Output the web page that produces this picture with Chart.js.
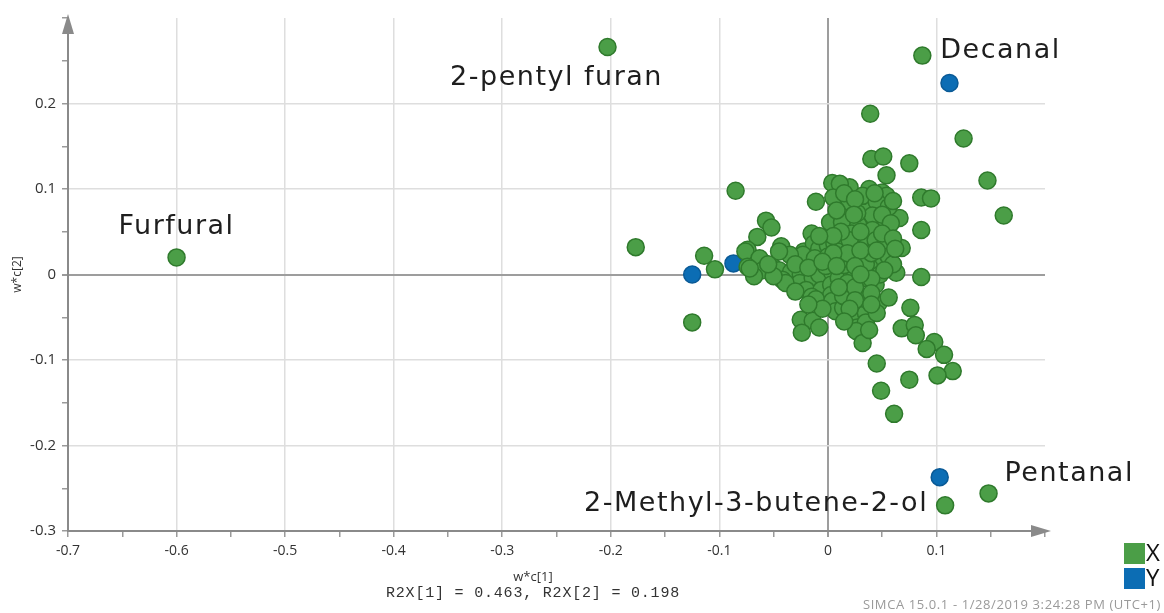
<!DOCTYPE html>
<html>
<head>
<meta charset="utf-8">
<script src="https://cdn.jsdelivr.net/npm/chart.js@4.4.1/dist/chart.umd.min.js"></script>
<style>
  body { margin: 0; background: #fff; }
  canvas { display: block; }
</style>
</head>
<body>
<canvas id="loadings" width="1164" height="613"></canvas>
<script>
// X variables (w*c[1], w*c[2])
const xPoints = [
    [-0.600, 0.020], [-0.203, 0.266], [0.087, 0.256], [0.148, -0.256], [0.108, -0.270],
    [-0.177, 0.032], [-0.125, -0.056], [-0.114, 0.022], [-0.104, 0.006], [-0.085, 0.098],
    [0.039, 0.188], [0.125, 0.159], [0.040, 0.135], [0.051, 0.138], [0.075, 0.130],
    [0.054, 0.116], [0.147, 0.110], [0.162, 0.069], [0.004, 0.107], [-0.011, 0.085],
    [0.086, 0.090], [0.095, 0.089], [0.086, 0.052], [-0.057, 0.063], [-0.052, 0.055],
    [-0.065, 0.044], [-0.074, 0.029], [-0.043, 0.033], [0.063, 0.002], [0.086, -0.003],
    [0.068, 0.031], [0.066, 0.066], [0.002, 0.061], [-0.015, 0.048], [0.047, 0.061],
    [0.016, 0.079], [0.033, 0.079], [0.020, 0.102], [0.038, 0.100], [0.050, 0.096],
    [0.032, 0.092], [0.054, 0.092], [0.011, 0.106], [0.045, 0.085], [0.056, 0.079],
    [0.022, 0.063], [0.041, 0.069], [0.013, 0.061], [0.028, 0.058], [0.041, 0.052],
    [0.022, 0.048], [0.032, 0.038], [0.044, 0.040], [0.053, 0.036], [0.013, 0.036],
    [0.025, 0.030], [-0.022, 0.027], [-0.013, 0.036], [-0.008, 0.030], [0.000, 0.034],
    [0.006, 0.036], [0.009, 0.027], [-0.076, 0.027], [-0.063, 0.019], [-0.074, 0.009],
    [-0.060, 0.005], [-0.068, -0.002], [-0.072, 0.007], [-0.051, 0.009], [-0.045, 0.005],
    [-0.034, 0.003], [-0.025, 0.000], [-0.042, -0.006], [-0.026, -0.010], [-0.039, -0.010],
    [-0.014, -0.004], [-0.008, 0.000], [0.004, 0.002], [-0.020, -0.018], [-0.006, -0.018],
    [0.003, -0.012], [0.010, -0.004], [-0.015, -0.026], [-0.008, -0.031], [0.003, -0.024],
    [-0.011, -0.029], [0.004, -0.031], [-0.023, 0.023], [-0.012, 0.019], [0.000, 0.021],
    [-0.035, 0.023], [-0.045, 0.027], [0.007, -0.043], [0.014, -0.039], [0.047, 0.013],
    [0.056, 0.021], [0.038, 0.009], [0.029, 0.019], [0.044, -0.012], [0.033, -0.004],
    [0.022, 0.003], [0.015, 0.011], [0.015, -0.024], [0.032, -0.029], [0.047, -0.033],
    [0.056, -0.027], [0.076, -0.039], [0.026, -0.047], [0.035, -0.045], [0.068, -0.063],
    [0.080, -0.059], [0.081, -0.071], [0.027, -0.062], [0.035, -0.056], [0.026, -0.066],
    [0.032, -0.080], [0.098, -0.079], [0.091, -0.087], [0.107, -0.094], [0.115, -0.113],
    [0.101, -0.118], [0.045, -0.104], [0.075, -0.123], [0.049, -0.136], [0.061, -0.163],
    [-0.025, -0.053], [-0.014, -0.054], [-0.008, -0.062], [-0.024, -0.068], [0.014, -0.025],
    [0.032, -0.028], [0.020, 0.085], [0.027, 0.072], [0.035, 0.012], [0.018, -0.010],
    [0.025, -0.015], [0.040, 0.025], [0.010, 0.015], [-0.002, 0.010], [0.048, 0.000],
    [0.020, 0.040], [0.005, 0.090], [0.015, 0.095], [0.025, 0.088], [0.043, 0.095],
    [0.060, 0.086], [0.008, 0.075], [0.024, 0.070], [0.050, 0.070], [0.058, 0.060],
    [0.012, 0.050], [0.030, 0.050], [0.050, 0.048], [0.060, 0.042], [0.005, 0.045],
    [0.018, 0.025], [0.030, 0.028], [0.045, 0.028], [0.060, 0.012], [0.005, 0.025],
    [0.025, 0.010], [0.052, 0.005], [0.040, -0.005], [0.010, -0.015], [0.025, -0.030],
    [0.040, -0.022], [0.020, -0.040], [0.045, -0.045], [0.015, -0.055], [0.038, -0.065],
    [0.040, -0.035], [-0.005, -0.040], [-0.018, -0.035], [-0.030, -0.020], [-0.050, -0.002],
    [-0.055, 0.012], [-0.030, 0.012], [-0.018, 0.008], [-0.005, 0.015], [0.062, 0.030],
    [0.030, 0.000], [-0.008, 0.045], [0.008, 0.010]
];

// Y variables
const yPoints = [
    [-0.125, 0.000], [-0.087, 0.013], [0.112, 0.224], [0.103, -0.237]
];

// named compounds: text, anchored to the point it labels
const labelTexts = ['Furfural', '2-pentyl furan', 'Decanal', 'Pentanal', '2-Methyl-3-butene-2-ol'];
const labelAnchors = [[-0.600, 0.020], [-0.203, 0.266], [0.087, 0.256], [0.148, -0.256], [0.108, -0.270]];

const xTitle = 'w*c[1]';
const yTitle = 'w*c[2]';
const r2Text = 'R2X[1] = 0.463, R2X[2] = 0.198';
const footer = 'SIMCA 15.0.1 - 1/28/2019 3:24:28 PM (UTC+1)';
const legendNames = ['X', 'Y'];

const GREEN = '#4b9e47';
const GREEN_EDGE = '#2f7a2c';
const BLUE = '#0c6db4';
const BLUE_EDGE = '#0a5a96';

// pixel offsets of each label from its point, plus alignment
const labelStyle = [
    { dx: 0, dy: -30, align: 'center' },
    { dx: -51, dy: 31, align: 'center' },
    { dx: 18, dy: -5, align: 'left' },
    { dx: 16, dy: -19, align: 'left' },
    { dx: -17, dy: -1, align: 'right' }
];

function toXY(arr) {
    return arr.map(p => ({ x: p[0], y: p[1] }));
}

function tenths(value) {
    return Math.round(value * 100);
}

function tickLabel(value, maxHundredths) {
    const v = tenths(value);
    if (v % 10 !== 0 || v > maxHundredths) return '';
    if (v === 0) return '0';
    return (v / 100).toString();
}

function gridColor(ctx, minV, maxV) {
    const v = tenths(ctx.tick.value);
    if (v === minV || v === maxV) return 'rgba(0,0,0,0)';
    if (v === 0) return '#9d9d9d';
    if (v % 10 === 0) return '#dedede';
    return 'rgba(0,0,0,0)';
}

const decorPlugin = {
    id: 'decor',
    afterDatasetsDraw(chart) {
        const ctx = chart.ctx;
        const xs = chart.scales.x;
        const ys = chart.scales.y;
        const area = chart.chartArea;

        // axis arrows
        ctx.save();
        ctx.fillStyle = '#8a8a8a';
        ctx.beginPath();
        ctx.moveTo(area.right + 6, area.bottom);
        ctx.lineTo(area.right - 14, area.bottom - 6);
        ctx.lineTo(area.right - 14, area.bottom + 6);
        ctx.closePath();
        ctx.fill();
        ctx.beginPath();
        ctx.moveTo(area.left, area.top - 4);
        ctx.lineTo(area.left - 6, area.top + 16);
        ctx.lineTo(area.left + 6, area.top + 16);
        ctx.closePath();
        ctx.fill();

        // compound labels
        ctx.fillStyle = '#1e1e1e';
        ctx.font = '27px "DejaVu Sans"';
        ctx.letterSpacing = '1.5px';
        ctx.textBaseline = 'middle';
        labelTexts.forEach((t, i) => {
            const px = xs.getPixelForValue(labelAnchors[i][0]) + labelStyle[i].dx;
            const py = ys.getPixelForValue(labelAnchors[i][1]) + labelStyle[i].dy;
            ctx.textAlign = labelStyle[i].align;
            ctx.fillText(t, px, py);
        });
        ctx.letterSpacing = '0px';

        // axis titles
        ctx.fillStyle = '#333';
        ctx.textAlign = 'center';
        ctx.font = '13px "Open Sans"';
        ctx.fillText(xTitle, 533, 577);
        ctx.font = '15px "Liberation Mono"';
        ctx.letterSpacing = '0.8px';
        ctx.fillText(r2Text, 533, 593);
        ctx.letterSpacing = '0px';
        ctx.save();
        ctx.translate(18, (area.top + area.bottom) / 2);
        ctx.rotate(-Math.PI / 2);
        ctx.font = '12px "Open Sans"';
        ctx.fillText(yTitle, 0, 0);
        ctx.restore();

        // footer
        ctx.fillStyle = '#9a9a9a';
        ctx.font = '13px "Open Sans"';
        ctx.letterSpacing = '0.6px';
        ctx.textAlign = 'right';
        ctx.fillText(footer, 1161, 605);
        ctx.letterSpacing = '0px';

        // legend
        const colors = [GREEN, BLUE];
        ctx.font = '24px "Open Sans"';
        ctx.textAlign = 'left';
        legendNames.forEach((n, i) => {
            const top = 543 + i * 25;
            ctx.fillStyle = colors[i];
            ctx.fillRect(1124, top, 21, 21);
            ctx.fillStyle = '#111';
            ctx.fillText(n, 1146, top + 11);
        });
        ctx.restore();
    }
};

const pointStyle = (fill, edge) => ({
    backgroundColor: fill,
    borderColor: edge,
    borderWidth: 1.5,
    pointRadius: 8.5,
    pointHoverRadius: 8.5
});

new Chart(document.getElementById('loadings'), {
    type: 'scatter',
    data: {
        datasets: [
            Object.assign({ label: 'X', data: toXY(xPoints) }, pointStyle(GREEN, GREEN_EDGE)),
            Object.assign({ label: 'Y', data: toXY(yPoints) }, pointStyle(BLUE, BLUE_EDGE))
        ]
    },
    options: {
        responsive: false,
        animation: false,
        layout: { padding: { top: 18, right: 119, left: 0, bottom: 0 } },
        plugins: {
            legend: { display: false },
            tooltip: { enabled: false }
        },
        scales: {
            x: {
                type: 'linear',
                min: -0.7,
                max: 0.2,
                afterFit: scale => { scale.height = 82; },
                ticks: {
                    stepSize: 0.05,
                    autoSkip: false,
                    maxRotation: 0,
                    padding: 6,
                    color: '#333',
                    font: { family: 'Open Sans', size: 14 },
                    callback: v => tickLabel(v, 10)
                },
                grid: {
                    color: ctx => gridColor(ctx, -70, 20),
                    lineWidth: ctx => tenths(ctx.tick.value) === 0 ? 2 : 1.5,
                    drawTicks: true,
                    tickLength: 6,
                    tickColor: '#9a9a9a'
                },
                border: { display: true, color: '#8a8a8a', width: 2 }
            },
            y: {
                type: 'linear',
                min: -0.3,
                max: 0.3,
                afterFit: scale => { scale.width = 68; },
                ticks: {
                    stepSize: 0.05,
                    autoSkip: false,
                    padding: 6,
                    color: '#333',
                    font: { family: 'Open Sans', size: 15 },
                    callback: v => tickLabel(v, 20)
                },
                grid: {
                    color: ctx => gridColor(ctx, -30, 30),
                    lineWidth: ctx => tenths(ctx.tick.value) === 0 ? 2 : 1.5,
                    drawTicks: true,
                    tickLength: 6,
                    tickColor: '#9a9a9a'
                },
                border: { display: true, color: '#8a8a8a', width: 2 }
            }
        }
    },
    plugins: [decorPlugin]
});
</script>
</body>
</html>
